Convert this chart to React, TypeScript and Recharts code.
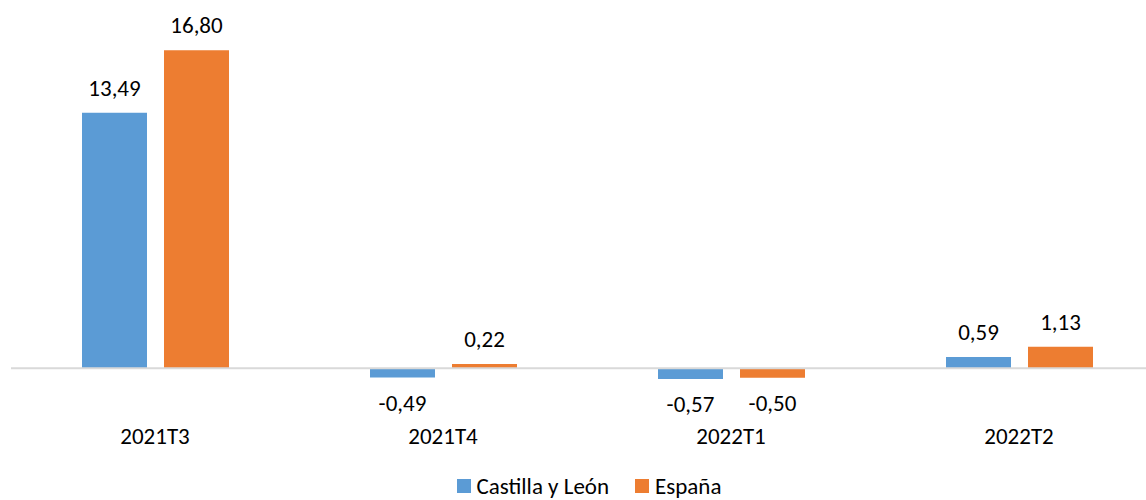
import { BarChart, Bar, XAxis, YAxis, Legend, LabelList, ReferenceLine } from "recharts";

const QUARTERS = ["2021T3", "2021T4", "2022T1", "2022T2"];
const CASTILLA_LEON = [13.49, -0.49, -0.57, 0.59];
const ESPANA = [16.8, 0.22, -0.5, 1.13];

const SERIES = [
  { key: "cyl", name: "Castilla y León", color: "#5B9BD5" },
  { key: "esp", name: "España", color: "#ED7D31" },
];

const FONT = "Carlito, Lato, 'Open Sans', sans-serif";
const FS = 23;

const data = QUARTERS.map((q, i) => ({
  quarter: q,
  cyl: CASTILLA_LEON[i],
  esp: ESPANA[i],
}));

const fmt = (v: any) => Number(v).toFixed(2).replace(".", ",");

function LegendContent() {
  return (
    <div
      style={{
        height: 24,
        lineHeight: "24px",
        display: "flex",
        justifyContent: "center",
        alignItems: "center",
        fontFamily: FONT,
        fontSize: FS,
        color: "#000",
        paddingLeft: 4,
      }}
    >
      {SERIES.map((s, i) => (
        <span
          key={s.key}
          style={{ display: "flex", alignItems: "center", marginLeft: i ? 26 : 0 }}
        >
          <span style={{ width: 14, height: 14, background: s.color, marginRight: 6 }} />
          {s.name}
        </span>
      ))}
    </div>
  );
}

export default function App() {
  return (
    <div
      style={{
        position: "absolute",
        left: 0,
        top: 0,
        width: 1146,
        height: 500,
        overflow: "hidden",
        background: "#fff",
      }}
    >
      <BarChart
        width={1170}
        height={500}
        data={data}
        margin={{ top: 27.5, right: 7, bottom: 2, left: 11 }}
        barSize={65}
        barGap={17}
      >
        <XAxis
          dataKey="quarter"
          axisLine={false}
          tickLine={false}
          tickSize={0}
          tickMargin={3}
          height={49}
          tick={{ fontFamily: FONT, fontSize: FS, fill: "#000" }}
        />
        <YAxis hide domain={[-3, 18]} />
        <ReferenceLine y={0} stroke="#d9d9d9" strokeWidth={2} />
        {SERIES.map((s) => (
          <Bar key={s.key} dataKey={s.key} name={s.name} fill={s.color} isAnimationActive={false}>
            <LabelList
              dataKey={s.key}
              position="top"
              offset={17}
              formatter={fmt}
              style={{ fontFamily: FONT, fontSize: FS, fill: "#000" }}
            />
          </Bar>
        ))}
        <Legend verticalAlign="bottom" height={24} content={<LegendContent />} />
      </BarChart>
    </div>
  );
}
